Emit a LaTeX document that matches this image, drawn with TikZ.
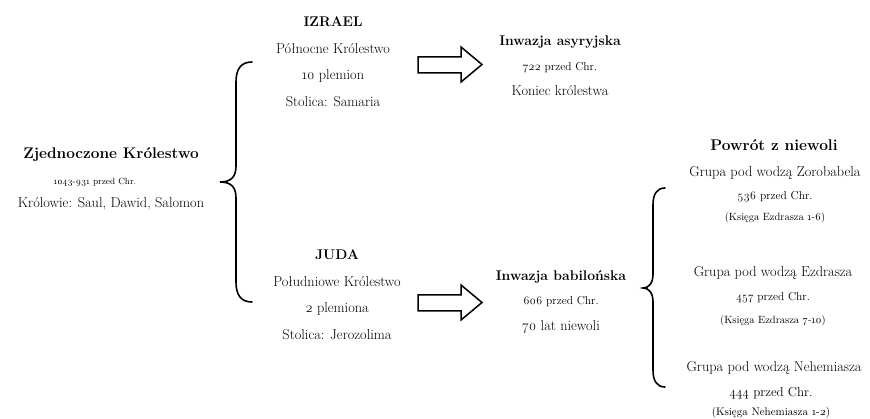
\documentclass[tikz,border=0pt]{standalone}
\usepackage{fontspec}
\setmainfont{Latin Modern Roman}[Numbers=OldStyle]
\begin{document}
\begin{tikzpicture}[x=1pt,y=-1pt,
  big/.style={font=\fontsize{15.4}{18}\selectfont\bfseries, inner sep=0pt},
  head/.style={font=\fontsize{14}{16}\selectfont\bfseries, inner sep=0pt},
  txt/.style={font=\fontsize{14.3}{16}\selectfont, inner sep=0pt},
  date/.style={font=\fontsize{11.5}{13}\selectfont, inner sep=0pt},
  ref/.style={font=\fontsize{10.5}{12}\selectfont, inner sep=0pt},
  brace/.style={line width=1.6pt, line cap=round},
  blockarrow/.style={line width=1.5pt, line join=miter, fill=white}]
\useasboundingbox (0,0) rectangle (870,419);
% Left block
\node[big]  (uk)  at (111,155) {Zjednoczone Królestwo};
\node[font=\fontsize{9}{11}\selectfont, inner sep=0pt] (ukd) at (95,182) {1043-931 przed Chr.};
\node[txt]  (ukk) at (111,204) {Królowie: Saul, Dawid, Salomon};
% Left brace
\coordinate (lbt) at (252,62);
\coordinate (lbm) at (220,182);
\coordinate (lbb) at (252,302);
\draw[brace] (lbt) .. controls (241,62) and (236,69) .. (236,82)
  -- (236,166) .. controls (236,177) and (231,182) .. (lbm)
  .. controls (231,182) and (236,187) .. (236,198)
  -- (236,282) .. controls (236,295) and (241,302) .. (lbb);
% Izrael
\node[head] (iz)  at (333,22) {IZRAEL};
\node[txt]  (iz1) at (333,49) {Północne Królestwo};
\node[txt]  (iz2) at (333,76) {10 plemion};
\node[txt]  (iz3) at (333,102) {Stolica: Samaria};
% Juda
\node[head] (ju)  at (337,255) {JUDA};
\node[txt]  (ju1) at (337,282) {Południowe Królestwo};
\node[txt]  (ju2) at (337,309) {2 plemiona};
\node[txt]  (ju3) at (337,335) {Stolica: Jerozolima};
% Arrows
\draw[blockarrow] (418,57) -- (461,57) -- (461,47) -- (482,64.5) -- (461,82) -- (461,73) -- (418,73) -- cycle;
\draw[blockarrow] (418,295) -- (461,295) -- (461,285) -- (482,302.5) -- (461,320) -- (461,311) -- (418,311) -- cycle;
% Assyrian
\node[head] (as)  at (560,42) {Inwazja asyryjska};
\node[date] (as1) at (560,68) {722 przed Chr.};
\node[txt]  (as2) at (560,91) {Koniec królestwa};
% Babylonian
\node[head] (ba)  at (561,277) {Inwazja babilońska};
\node[date] (ba1) at (561,302) {606 przed Chr.};
\node[txt]  (ba2) at (561,327) {70 lat niewoli};
% Right brace
\coordinate (rbt) at (665,188);
\coordinate (rbm) at (643,288);
\coordinate (rbb) at (665,387);
\draw[brace] (rbt) .. controls (657,188) and (653,194) .. (653,205)
  -- (653,274) .. controls (653,283) and (649,288) .. (rbm)
  .. controls (649,288) and (653,293) .. (653,302)
  -- (653,370) .. controls (653,381) and (657,387) .. (rbb);
% Return
\node[font=\fontsize{15.5}{18}\selectfont\bfseries, inner sep=0pt] (pw) at (774,145) {Powrót z niewoli};
\node[txt]  (g1)  at (775,173) {Grupa pod wodzą Zorobabela};
\node[date] (g1a) at (775,197) {536 przed Chr.};
\node[ref]  (g1b) at (775,218) {(Księga Ezdrasza 1-6)};
\node[txt]  (g2)  at (773,273) {Grupa pod wodzą Ezdrasza};
\node[date] (g2a) at (773,298) {457 przed Chr.};
\node[ref]  (g2b) at (773,321) {(Księga Ezdrasza 7-10)};
\node[txt]  (g3)  at (774,368) {Grupa pod wodzą Nehemiasza};
\node[font=\fontsize{13}{15}\selectfont, inner sep=0pt] (g3a) at (771,393) {444 przed Chr.};
\node[font=\fontsize{11}{13}\selectfont, inner sep=0pt] (g3b) at (771,413) {(Księga Nehemiasza 1-2)};
\end{tikzpicture}
\end{document}
